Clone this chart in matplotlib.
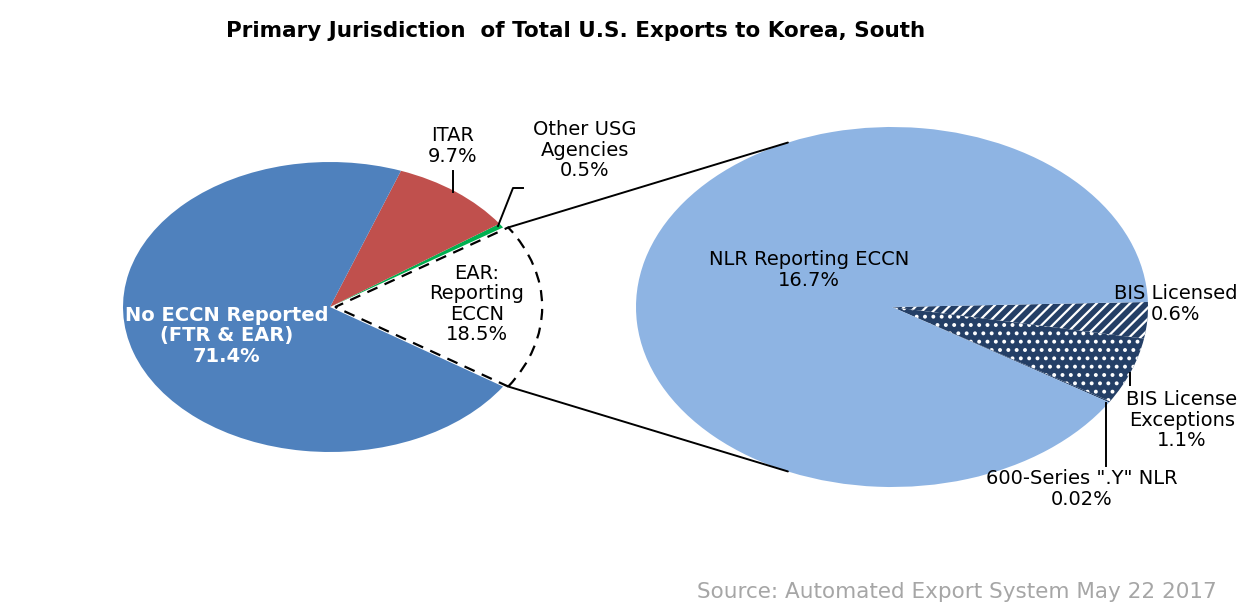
import numpy as np
import matplotlib
matplotlib.use("Agg")
import matplotlib.pyplot as plt
from matplotlib.patches import ConnectionPatch

# ---------------- data ----------------
left_labels = ["EAR:\nReporting\nECCN", "Other USG\nAgencies", "ITAR", "No ECCN Reported\n(FTR & EAR)"]
left_values = [18.5, 0.5, 9.7, 71.4]
right_labels = ['600-Series ".Y" NLR', "BIS License\nExceptions", "BIS Licensed", "NLR Reporting ECCN"]
right_values = [0.02, 1.1, 0.6, 16.7]
title = "Primary Jurisdiction  of Total U.S. Exports to Korea, South"
source = "Source: Automated Export System May 22 2017"

# ---------------- style ----------------
W, H = 1241, 615
plt.rcParams['font.family'] = ['DejaVu Sans']
plt.rcParams['hatch.linewidth'] = 1.6
left_colors = ["white", "#00B050", "#C0504D", "#4F81BD"]
right_colors = ["#243F66", "#243F66", "#243F66", "#8EB4E3"]

fig = plt.figure(figsize=(W / 100, H / 100), dpi=100)
fig.patch.set_facecolor("white")

PAD = 1.2


def pie_axes(cx, cy, rx, ry):
    return fig.add_axes([(cx - rx * PAD) / W, (H - cy - ry * PAD) / H,
                         2 * rx * PAD / W, 2 * ry * PAD / H])


def finish(ax):
    ax.set_aspect('auto')
    ax.set_xlim(-PAD, PAD)
    ax.set_ylim(-PAD, PAD)
    ax.axis('off')


# left pie (elliptical, as in the stretched original)
L_cx, L_cy, L_rx, L_ry = 330, 307, 207, 145
axL = pie_axes(L_cx, L_cy, L_rx, L_ry)
l_start = -left_values[0] / sum(left_values) * 360 / 2
explode = [0.025, 0, 0, 0]
wL, _ = axL.pie(left_values, colors=left_colors, startangle=l_start,
                counterclock=True, explode=explode, radius=1,
                wedgeprops=dict(linewidth=0))
wL[0].set_edgecolor("black")
wL[0].set_linestyle((0, (5, 3.5)))
wL[0].set_linewidth(1.6)
finish(axL)

# right pie
R_cx, R_cy, R_rx, R_ry = 892, 307, 256, 180
axR = pie_axes(R_cx, R_cy, R_rx, R_ry)
small_sum = sum(right_values[:3]) / sum(right_values) * 360
r_start = 1.6 - small_sum
wR, _ = axR.pie(right_values, colors=right_colors, startangle=r_start,
                counterclock=True, radius=1, wedgeprops=dict(linewidth=0))
# BIS License Exceptions: dots
wR[1].set_hatch("..")
wR[1].set_edgecolor("white")
wR[1].set_linewidth(0)
# BIS Licensed: diagonal stripes
wR[2].set_hatch("///")
wR[2].set_edgecolor("white")
wR[2].set_linewidth(0)
finish(axR)

# connector lines from exploded EAR wedge to the second pie
ear = wL[0]
ecx, ecy = ear.center
for th, rth in ((ear.theta2, 114), (ear.theta1, -114)):
    p1 = (ecx + np.cos(np.radians(th)), ecy + np.sin(np.radians(th)))
    p2 = (np.cos(np.radians(rth)), np.sin(np.radians(rth)))
    con = ConnectionPatch(xyA=p1, coordsA=axL.transData, xyB=p2, coordsB=axR.transData,
                          color="black", lw=1.4)
    fig.add_artist(con)

# overlay for text and leader lines (pixel coordinates)
ax0 = fig.add_axes([0, 0, 1, 1])
ax0.set_xlim(0, W)
ax0.set_ylim(H, 0)
ax0.axis('off')

fs = 14
ls = 1.08
ax0.text(576, 31, title, ha='center', va='center', fontsize=15.5, fontweight='bold')
ax0.text(227, 336, f"{left_labels[3]}\n{left_values[3]}%", ha='center', va='center',
         color='white', fontweight='bold', fontsize=fs, linespacing=ls)
ax0.text(453, 146, f"{left_labels[2]}\n{left_values[2]}%", ha='center', va='center',
         fontsize=fs, linespacing=ls)
ax0.text(585, 150, f"{left_labels[1]}\n{left_values[1]}%", ha='center', va='center',
         fontsize=fs, linespacing=ls)
ax0.text(477, 304, f"{left_labels[0]}\n{left_values[0]}%", ha='center', va='center',
         fontsize=fs, linespacing=ls)
ax0.text(809, 270, f"{right_labels[3]}\n{right_values[3]}%", ha='center', va='center',
         fontsize=fs, linespacing=ls)
ax0.text(1176, 304, f"{right_labels[2]}\n{right_values[2]}%", ha='center', va='center',
         fontsize=fs, linespacing=ls)
ax0.text(1182, 420, f"{right_labels[1]}\n{right_values[1]}%", ha='center', va='center',
         fontsize=fs, linespacing=ls)
ax0.text(1082, 489, f"{right_labels[0]}\n{right_values[0]}%", ha='center', va='center',
         fontsize=fs, linespacing=ls)
ax0.text(1217, 592, source, ha='right', va='center', fontsize=15.5, color='#A6A6A6')

# leader lines
ax0.plot([453, 453], [171, 192], color='black', lw=1.4)
ax0.plot([498, 513, 523], [226, 188, 188], color='black', lw=1.4)
ax0.plot([1130, 1130], [373, 385], color='black', lw=1.4)
ax0.plot([1106, 1106], [403, 466], color='black', lw=1.4)

fig.savefig("out.png", dpi=100, facecolor="white")
